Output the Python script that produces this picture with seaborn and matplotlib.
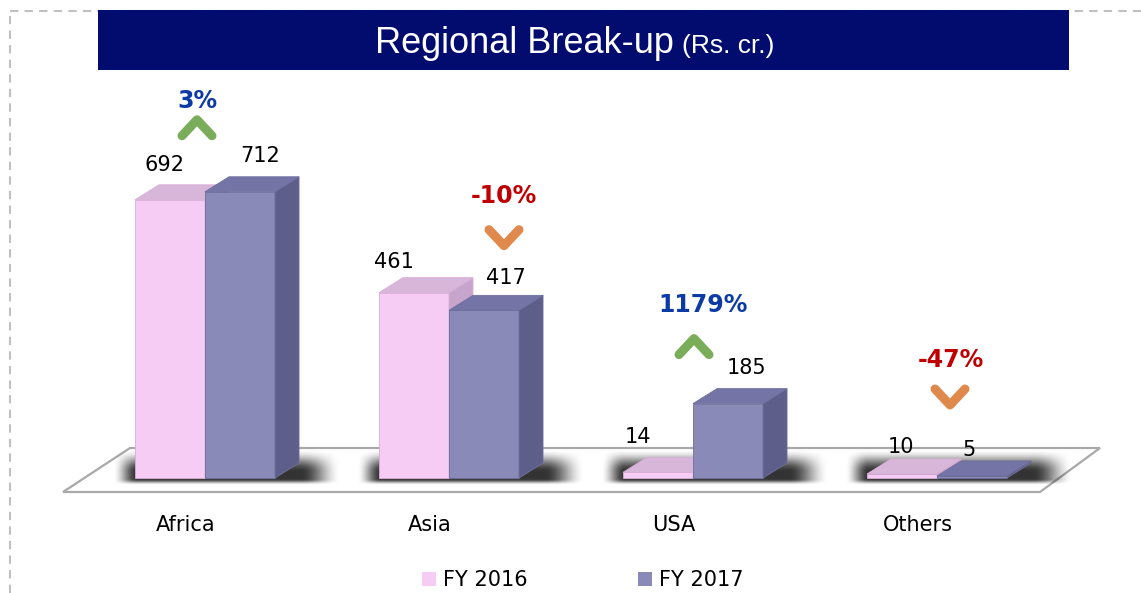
import numpy as np
import pandas as pd
import matplotlib
matplotlib.use("Agg")
import matplotlib.pyplot as plt
import seaborn as sns
from matplotlib.patches import Polygon, Rectangle
from matplotlib.lines import Line2D
from matplotlib.transforms import ScaledTranslation

# ---------------- data ----------------
regions = ["Africa", "Asia", "USA", "Others"]
fy2016 = [692, 461, 14, 10]
fy2017 = [712, 417, 185, 5]
series = ["FY 2016", "FY 2017"]
pct_change = ["3%", "-10%", "1179%", "-47%"]
direction = ["up", "down", "up", "down"]

# ---------------- layout / style ----------------
W, H, DPI = 1141, 593, 100
front_cols = ["#F6CCF4", "#8A8AB9"]
top_cols = ["#D8B6DA", "#7474A6"]
side_cols = ["#C7A4CB", "#5E5E8B"]
edge_cols = ["#D9AED8", "#6E6E9C"]
DEPTH_X, DEPTH_Y = 24, 15  # px
# value label offsets (px) relative to bar front-top centre
val_off = [[(-5, -35), (-20, -31), (-20, -35), (-1, -27)],
           [(20, -36), (22, -32), (18, -36), (-3, -26)]]
# percent label / chevron offsets (px) relative to group centre & highest bar top
pct_off = [(-8, -91), (55, -97), (10, -99), (14, -114)]
chev_off = [(-8, -64), (55, -55), (1, -57), (13, -77)]
up_col, down_col = "#79AD59", "#DF8A4C"
up_txt, down_txt = "#0D3BA6", "#C00000"

sns.set_theme(style="white")
plt.rcParams["font.family"] = ["DejaVu Sans"]
plt.rcParams["text.color"] = "black"

df = pd.DataFrame({
    "Region": regions * 2,
    "Series": [series[0]] * len(regions) + [series[1]] * len(regions),
    "Value": fy2016 + fy2017,
})

fig = plt.figure(figsize=(W / DPI, H / DPI), dpi=DPI)
fig.patch.set_facecolor("white")
ax = fig.add_axes([83 / W, 93 / H, 976 / W, 500 / H])
ax.set_facecolor("none")

sns.barplot(data=df, x="Region", y="Value", hue="Series", palette=front_cols,
            width=0.574, gap=0, saturation=1, ax=ax, linewidth=0, legend=True)

px_per_val = 0.402
XLIM = (-0.5, 3.5)
YLIM = (-22 / px_per_val, (H - 115) / px_per_val)
ax.set_xlim(*XLIM)
ax.set_ylim(*YLIM)
for s in ax.spines.values():
    s.set_visible(False)
ax.set_yticks([])
ax.set_xlabel("")
ax.set_ylabel("")
ax.tick_params(axis="x", length=0, pad=11, labelsize=15, colors="black")


def p2d(xp, yp):
    return ax.transData.inverted().transform((xp, H - yp))


def d2p(xd, yd):
    xx, yy = ax.transData.transform((xd, yd))
    return xx, H - yy


# tick label shift (perspective)
for lbl in ax.get_xticklabels():
    lbl.set_transform(lbl.get_transform() + ScaledTranslation(-19 / DPI, 0, fig.dpi_scale_trans))

# floor
floor_px = [(63, 492), (1040, 492), (1100, 448), (130, 448)]
ax.add_patch(Polygon([p2d(*p) for p in floor_px], closed=True, facecolor="white",
                     edgecolor="#A9A9A9", linewidth=1.6, zorder=1, clip_on=False))

bars = [list(c) for c in ax.containers]


def smooth(t):
    t = np.clip(t, 0, 1)
    return t * t * (3 - 2 * t)


# soft shadows behind the bar bases
for j in range(len(regions)):
    b0, b1 = bars[0][j], bars[1][j]
    lx, _ = d2p(b0.get_x(), 0)
    rx, _ = d2p(b1.get_x() + b1.get_width(), 0)
    rx += DEPTH_X
    sx0, sx1 = lx - 22, rx + 42
    sy0, sy1 = 450, 485
    xs = np.arange(sx0, sx1) + 0.5
    ys = np.arange(sy0, sy1) + 0.5
    X, Y = np.meshgrid(xs, ys)
    fx = smooth(np.minimum((X - sx0) / 24, (sx1 - X) / 40))
    fy = smooth(np.minimum((Y - sy0) / 22, (sy1 - Y) / 6))
    alpha = 0.8 * fx * fy
    img = np.zeros(X.shape + (4,))
    img[..., 3] = alpha
    (dx0, dy1) = p2d(sx0, sy0)
    (dx1, dy0) = p2d(sx1, sy1)
    ax.imshow(img, extent=(dx0, dx1, dy0, dy1), origin="upper", aspect="auto",
              interpolation="bilinear", zorder=1.5, clip_on=False)

ax.set_xlim(*XLIM)
ax.set_ylim(*YLIM)

# 3-D faces
for i, cont in enumerate(bars):
    for j, b in enumerate(cont):
        z = 3 + i
        b.set_zorder(z)
        b.set_edgecolor(edge_cols[i])
        b.set_linewidth(0.6)
        x0, yb = d2p(b.get_x(), 0)
        x1, yt = d2p(b.get_x() + b.get_width(), b.get_height())
        top = [(x0, yt), (x1, yt), (x1 + DEPTH_X, yt - DEPTH_Y), (x0 + DEPTH_X, yt - DEPTH_Y)]
        side = [(x1, yb), (x1, yt), (x1 + DEPTH_X, yt - DEPTH_Y), (x1 + DEPTH_X, yb - DEPTH_Y)]
        ax.add_patch(Polygon([p2d(*p) for p in side], closed=True, facecolor=side_cols[i],
                             edgecolor=edge_cols[i], linewidth=0.6, zorder=z + 0.1))
        ax.add_patch(Polygon([p2d(*p) for p in top], closed=True, facecolor=top_cols[i],
                             edgecolor=edge_cols[i], linewidth=0.6, zorder=z + 0.2))
        cx = (x0 + x1) / 2
        dx, dy = val_off[i][j]
        ax.text(*p2d(cx + dx, yt + dy), f"{int(round(b.get_height()))}", ha="center",
                va="center", fontsize=15, color="black", zorder=10)

# percent changes and chevrons
for j in range(len(regions)):
    b0, b1 = bars[0][j], bars[1][j]
    gx, _ = d2p(b0.get_x() + b0.get_width(), 0)
    _, gy = d2p(0, max(b0.get_height(), b1.get_height()))
    up = direction[j] == "up"
    lx, ly = pct_off[j]
    ax.text(*p2d(gx + lx, gy + ly), pct_change[j], ha="center", va="center",
            fontsize=17, fontweight="bold", color=up_txt if up else down_txt, zorder=10)
    cx, cy = chev_off[j]
    cx += gx
    cy += gy
    hw, hh = 15, 8
    if up:
        pts = [(cx - hw, cy + hh), (cx, cy - hh), (cx + hw, cy + hh)]
    else:
        pts = [(cx - hw, cy - hh), (cx, cy + hh), (cx + hw, cy - hh)]
    dpts = np.array([p2d(*p) for p in pts])
    ax.add_line(Line2D(dpts[:, 0], dpts[:, 1], color=up_col if up else down_col,
                       linewidth=9 * 0.72, solid_capstyle="round",
                       solid_joinstyle="round", zorder=10))

# legend
handles, labels = ax.get_legend_handles_labels()
leg = ax.legend(handles, labels, loc="center", bbox_to_anchor=(583 / W, 1 - 580 / H),
                bbox_transform=fig.transFigure, ncol=2, frameon=False, fontsize=15,
                handlelength=0.65, handleheight=0.65, handletextpad=0.35, columnspacing=5.3,
                borderaxespad=0, labelcolor="black")

# dashed border
fig.add_artist(Line2D([10 / W, 1.0], [1 - 11 / H, 1 - 11 / H], transform=fig.transFigure,
                      color="#C0C0C0", lw=1.5, ls=(0, (4, 3)), zorder=0))
fig.add_artist(Line2D([10 / W, 10 / W], [0, 1 - 11 / H], transform=fig.transFigure,
                      color="#C0C0C0", lw=1.5, ls=(0, (4, 3)), zorder=0))

# title banner
fig.add_artist(Rectangle((98 / W, 1 - 70 / H), 971 / W, 60 / H, transform=fig.transFigure,
                         facecolor="#020C6E", edgecolor="none", zorder=5))
fig.text(674 / W, 1 - 53 / H, "Regional Break-up", ha="right", va="baseline",
         fontsize=26, color="white", family=["Liberation Sans", "DejaVu Sans"], zorder=6)
fig.text(682 / W, 1 - 53 / H, "(Rs. cr.)", ha="left", va="baseline",
         fontsize=19, color="white", family=["Liberation Sans", "DejaVu Sans"], zorder=6)

fig.savefig("out.png", dpi=DPI)
